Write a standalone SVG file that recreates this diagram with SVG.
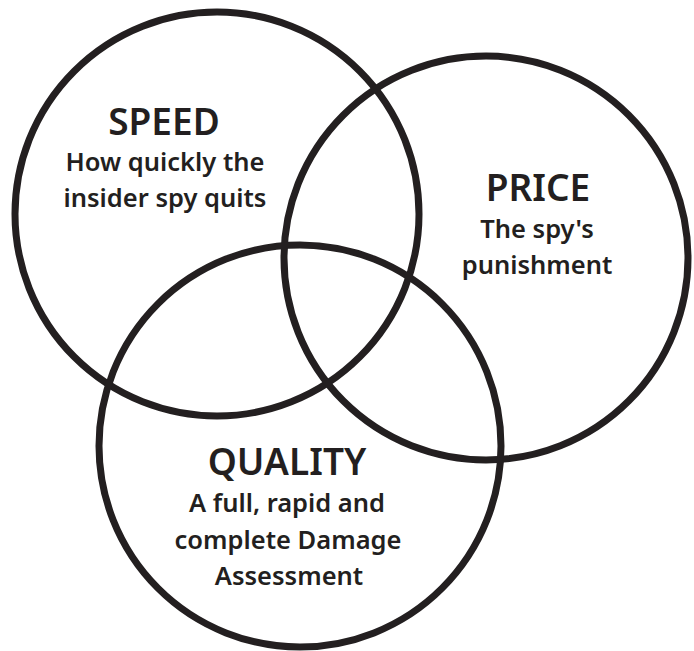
<svg xmlns="http://www.w3.org/2000/svg" width="694" height="651" viewBox="0 0 694 651">
<style>
.c{fill:none;stroke:#231f20;stroke-width:7}
.t{font-family:"Noto Sans","Open Sans",sans-serif;fill:#231f20;text-anchor:middle;font-weight:600}
.h{font-size:37px}
.s{font-size:25.5px}
</style>
<rect width="694" height="651" fill="#fff"/>
<g id="speed"><circle class="c" cx="217" cy="214" r="202"/>
<text class="t h" x="164" y="135">SPEED</text>
<text class="t s" x="165" y="171">How quickly the</text>
<text class="t s" x="165" y="207">insider spy quits</text></g>
<g id="price"><circle class="c" cx="486" cy="258" r="202"/>
<text class="t h" x="538" y="201">PRICE</text>
<text class="t s" x="537" y="238">The spy's</text>
<text class="t s" x="537" y="274">punishment</text></g>
<g id="quality"><circle class="c" cx="300" cy="446" r="201"/>
<text class="t h" x="287" y="475">QUALITY</text>
<text class="t s" x="287" y="512">A full, rapid and</text>
<text class="t s" x="288" y="549">complete Damage</text>
<text class="t s" x="289" y="585">Assessment</text></g>
<g id="connectors"></g>
</svg>
